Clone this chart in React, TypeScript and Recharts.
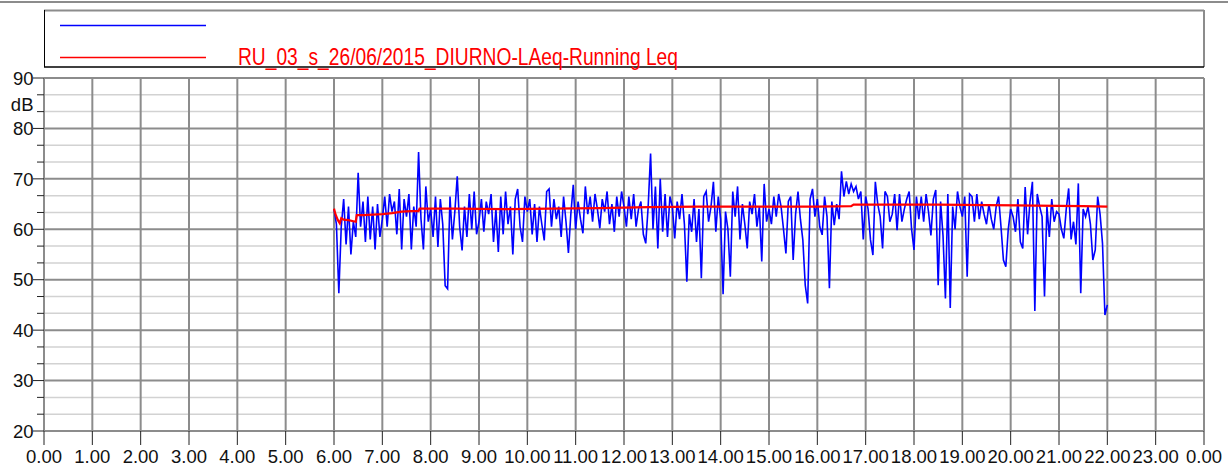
import React from 'react';
import { LineChart, Line, XAxis, YAxis, CartesianGrid } from 'recharts';

// LAeq samples, one every 3 minutes from 6.00 to 22.00
const LAEQ_START = 6;
const LAEQ_STEP = 0.05;
const LAEQ_06 = [64.0, 61.0, 47.3, 60.5, 66.0, 57.0, 64.5, 55.0, 61.5, 58.5, 71.2, 60.5, 65.5, 57.5, 66.5, 58.0, 64.5, 56.0, 65.0, 58.5];
const LAEQ_07 = [62.0, 66.5, 60.5, 67.0, 63.5, 65.5, 59.0, 68.0, 56.0, 66.0, 62.5, 67.0, 56.0, 64.5, 60.5, 75.3, 62.0, 56.0, 68.5, 61.5];
const LAEQ_08 = [64.0, 58.5, 66.5, 56.5, 66.0, 61.0, 48.8, 48.2, 66.5, 58.0, 63.5, 70.5, 60.5, 55.8, 64.5, 58.5, 67.0, 60.0, 67.5, 59.0];
const LAEQ_09 = [61.5, 66.0, 59.5, 65.5, 63.0, 67.0, 57.5, 64.0, 55.5, 66.5, 59.0, 67.5, 61.0, 64.5, 55.0, 66.0, 68.0, 60.5, 57.5, 66.5];
const LAEQ_10 = [63.5, 66.0, 59.0, 65.0, 57.5, 64.5, 61.0, 57.8, 67.5, 68.0, 60.5, 66.0, 62.0, 64.5, 58.5, 66.5, 61.5, 55.3, 63.0, 68.8];
const LAEQ_11 = [60.0, 65.5, 62.0, 59.2, 68.5, 63.0, 66.5, 61.5, 67.0, 64.0, 60.2, 66.0, 63.5, 67.5, 61.0, 65.0, 59.5, 66.5, 62.5, 67.5];
const LAEQ_12 = [64.5, 60.5, 66.5, 62.0, 67.0, 60.5, 64.0, 65.5, 59.0, 57.2, 64.5, 75.0, 60.0, 68.5, 56.2, 70.0, 59.5, 67.0, 58.5, 66.5];
const LAEQ_13 = [64.5, 58.2, 65.5, 62.0, 67.0, 61.0, 49.6, 63.0, 59.5, 66.0, 57.5, 64.0, 50.3, 66.5, 67.5, 61.5, 64.5, 69.4, 59.5, 66.5];
const LAEQ_14 = [62.0, 47.1, 63.5, 60.0, 50.6, 67.5, 62.5, 68.5, 58.0, 65.0, 61.0, 56.2, 65.5, 63.0, 67.0, 60.5, 64.5, 53.6, 69.0, 61.5];
const LAEQ_15 = [64.0, 61.0, 66.5, 62.5, 67.0, 64.5, 60.0, 55.2, 65.5, 66.5, 53.9, 63.0, 67.5, 62.0, 57.9, 48.9, 45.3, 66.0, 68.0, 62.5];
const LAEQ_16 = [66.0, 60.5, 58.9, 66.5, 62.5, 48.3, 65.5, 60.8, 65.0, 62.0, 71.5, 66.5, 69.5, 67.0, 69.0, 67.5, 68.5, 66.0, 67.5, 58.0];
const LAEQ_17 = [66.5, 64.0, 57.9, 54.9, 69.4, 65.0, 62.5, 56.2, 67.5, 66.5, 61.5, 63.0, 67.0, 59.8, 67.0, 61.5, 64.0, 66.0, 67.5, 60.0];
const LAEQ_18 = [55.9, 66.5, 62.0, 66.5, 61.5, 67.0, 63.5, 58.8, 66.0, 67.8, 48.9, 65.5, 58.8, 46.3, 67.0, 44.4, 64.5, 60.0, 67.5, 64.5];
const LAEQ_19 = [62.5, 66.5, 50.6, 67.0, 66.5, 61.5, 67.0, 62.0, 65.5, 63.0, 61.0, 65.0, 62.0, 60.0, 64.5, 66.5, 60.5, 53.9, 52.6, 60.0];
const LAEQ_20 = [64.0, 62.5, 59.5, 66.0, 57.5, 56.2, 68.4, 59.0, 65.5, 69.4, 43.8, 67.0, 64.5, 62.5, 46.7, 64.5, 58.5, 66.0, 61.5, 63.5];
const LAEQ_21 = [63.0, 60.0, 58.2, 64.0, 68.1, 58.0, 61.5, 57.0, 69.1, 47.3, 64.0, 62.5, 64.5, 61.0, 53.9, 55.9, 66.5, 63.0, 57.2, 43.0, 45.0];

// running Leq
const LEQ_TIMES = [6.0, 6.03, 6.08, 6.12, 6.15, 6.2, 6.3, 6.4, 6.45, 6.47, 6.6, 6.8, 7.0, 7.2, 7.4, 7.6, 7.75, 7.77, 8.5, 9.5, 10.5, 11.5, 12.5, 13.5, 15.0, 16.0, 16.7, 16.75, 17.5, 18.5, 19.5, 20.5, 21.5, 22.0];
const LEQ_VALUES = [64.1, 63.0, 61.8, 61.2, 62.2, 61.9, 61.8, 61.6, 61.5, 62.8, 62.8, 62.9, 63.0, 63.2, 63.5, 63.6, 63.6, 64.1, 64.1, 64.0, 64.1, 64.2, 64.4, 64.5, 64.5, 64.5, 64.6, 64.9, 64.9, 64.9, 64.8, 64.7, 64.6, 64.5];

const X_TICKS = [0, 1, 2, 3, 4, 5, 6, 7, 8, 9, 10, 11, 12, 13, 14, 15, 16, 17, 18, 19, 20, 21, 22, 23, 24];
const X_TICK_LABELS = ['0.00', '1.00', '2.00', '3.00', '4.00', '5.00', '6.00', '7.00', '8.00', '9.00', '10.00', '11.00', '12.00', '13.00', '14.00', '15.00', '16.00', '17.00', '18.00', '19.00', '20.00', '21.00', '22.00', '23.00', '0.00'];
const Y_MAJOR = [20, 30, 40, 50, 60, 70, 80, 90];
const Y_MINOR = Y_MAJOR.slice(0, -1).flatMap(v => [v + 10 / 3, v + 20 / 3]);
const Y_ALL = [...Y_MAJOR, ...Y_MINOR].sort((a, b) => a - b);

const LEGEND_TEXT = 'RU_03_s_26/06/2015_DIURNO-LAeq-Running Leq';

const laeqRows = [LAEQ_06, LAEQ_07, LAEQ_08, LAEQ_09, LAEQ_10, LAEQ_11, LAEQ_12, LAEQ_13, LAEQ_14, LAEQ_15, LAEQ_16, LAEQ_17, LAEQ_18, LAEQ_19, LAEQ_20, LAEQ_21]
  .flat()
  .map((v, i) => ({ t: Number((LAEQ_START + i * LAEQ_STEP).toFixed(2)), v }));
const leqRows = LEQ_TIMES.map((t, i) => ({ t, v: LEQ_VALUES[i] }));

const FONT = '"Liberation Sans", Arial, sans-serif';
const DARK = '#8c8c8c';

function YTick({ x, y, payload }: any) {
  const major = Y_MAJOR.some(m => Math.abs(m - payload.value) < 0.01);
  return (
    <g>
      <line x1={x - (major ? 11 : 7)} x2={x} y1={y} y2={y} stroke="#222" strokeWidth={1} />
      {major && (
        <text x={x - 10.5} y={y} dy="0.36em" textAnchor="end" fontSize={18.5} fontFamily={FONT} fill="#111">
          {payload.value}
        </text>
      )}
    </g>
  );
}

function XTick({ x, y, payload, index }: any) {
  return (
    <g>
      <line x1={x} x2={x} y1={y} y2={y + 14} stroke="#222" strokeWidth={1} />
      <text x={x} y={y + 32} textAnchor="middle" fontSize={18.5} fontFamily={FONT} fill="#111">
        {X_TICK_LABELS[index] ?? String(payload.value)}
      </text>
    </g>
  );
}

export default function App() {
  return (
    <div style={{ position: 'absolute', left: 0, top: 0, width: 1228, height: 467, background: '#fff' }}>
      <LineChart width={1228} height={467} margin={{ top: 78, right: 24, bottom: 0, left: 0 }}>
        <CartesianGrid horizontalValues={Y_MINOR} vertical={false} stroke="#d2d2d2" strokeWidth={1.5} />
        <CartesianGrid horizontalValues={Y_MAJOR} stroke={DARK} strokeWidth={2} />
        <XAxis
          type="number"
          dataKey="t"
          domain={[0, 24]}
          ticks={X_TICKS}
          interval={0}
          height={36}
          axisLine={false}
          tickLine={false}
          tickSize={0}
          tickMargin={0}
          tick={<XTick />}
          allowDataOverflow
        />
        <YAxis
          type="number"
          domain={[20, 90]}
          ticks={Y_ALL}
          interval={0}
          width={44}
          axisLine={false}
          tickLine={false}
          tickSize={0}
          tickMargin={0}
          tick={<YTick />}
          allowDataOverflow
        />
        <Line data={laeqRows} dataKey="v" type="linear" stroke="#0000ff" strokeWidth={1.6} dot={false} isAnimationActive={false} />
        <Line data={leqRows} dataKey="v" type="linear" stroke="#ff0000" strokeWidth={2.2} dot={false} isAnimationActive={false} />
      </LineChart>
      <svg width={1228} height={467} style={{ position: 'absolute', left: 0, top: 0, pointerEvents: 'none' }}>
        <line x1={0} x2={1228} y1={2} y2={2} stroke={DARK} strokeWidth={2} />
        <line x1={44} x2={1204} y1={10.5} y2={10.5} stroke={DARK} strokeWidth={2} />
        <line x1={1204} x2={1204} y1={10} y2={67} stroke={DARK} strokeWidth={2} />
        <line x1={44.5} x2={44.5} y1={10} y2={67} stroke="#000" strokeWidth={1} />
        <line x1={44} x2={1204} y1={67} y2={67} stroke="#000" strokeWidth={1.5} />
        <line x1={60} x2={206} y1={25.5} y2={25.5} stroke="#0000ff" strokeWidth={1.5} />
        <line x1={60} x2={206} y1={57.5} y2={57.5} stroke="#ff0000" strokeWidth={1.5} />
        <text x={238} y={64.5} fontSize={24.5} fontFamily={FONT} fill="#ff0000" textLength={440} lengthAdjust="spacingAndGlyphs">
          {LEGEND_TEXT}
        </text>
        <text x={33.5} y={111} textAnchor="end" fontSize={18.5} fontFamily={FONT} fill="#111">dB</text>
      </svg>
    </div>
  );
}
